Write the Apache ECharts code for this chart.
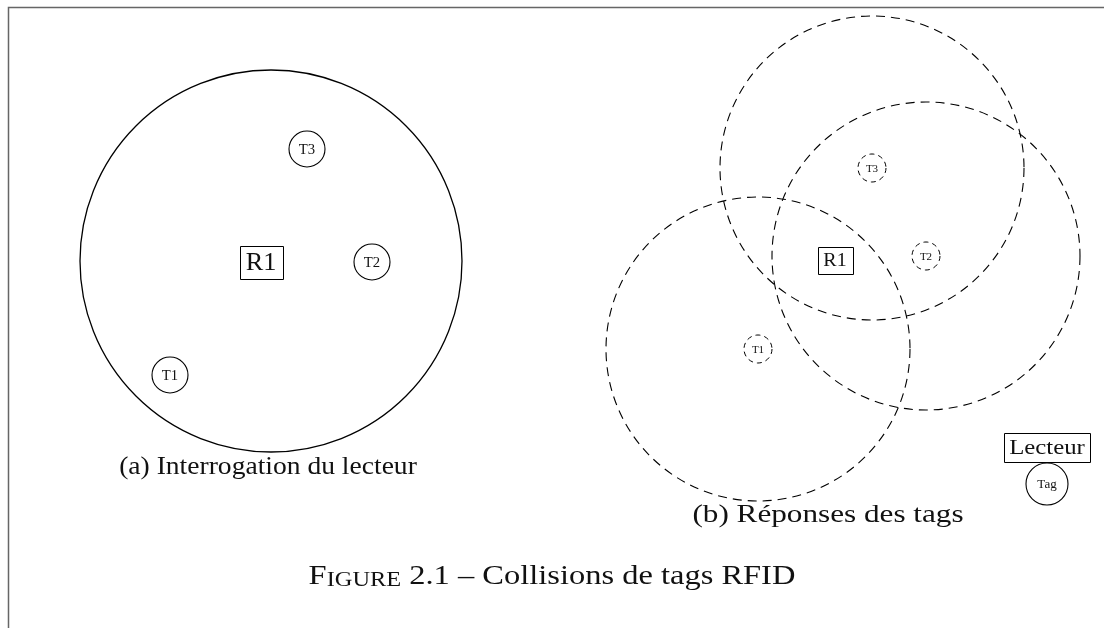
<!DOCTYPE html>
<html>
<head>
<meta charset="utf-8">
<script src="https://cdn.jsdelivr.net/npm/echarts@6/dist/echarts.min.js"></script>
<style>
  html, body { margin: 0; padding: 0; background: #fff; }
  #fig { width: 1104px; height: 628px; }
</style>
</head>
<body>
<div id="fig"></div>
<script>
// (a) reader query: reader range + tags
var readerA = ['R1'];
var readerAX = [261];
var readerAY = [262];
var rangeAX = [271];
var rangeAY = [261];
var rangeAR = [191];
var tagNames = ['T1', 'T2', 'T3'];
var tagAX = [170, 372, 307];
var tagAY = [375, 262, 149];

// (b) tag responses: each tag answers within its own range
var readerBX = [835];
var readerBY = [260];
var tagBX = [758, 926, 872];
var tagBY = [349, 256, 168];
var tagBR = [152, 154, 152];

// legend
var legendBox = ['Lecteur'];
var legendTag = ['Tag'];

var serif = 'Liberation Serif';
var chartDom = document.getElementById('fig');
var myChart = echarts.init(chartDom);

// measure a label to size its box
var ctx = document.createElement('canvas').getContext('2d');
function textWidth(txt, size) {
  ctx.font = size + 'px "' + serif + '"';
  return ctx.measureText(txt).width;
}

function circleItem(opt) {
  return function (params, api) {
    var c = api.coord([api.value(0), api.value(1)]);
    var r = api.size([api.value(2), 0])[0];
    var kids = [{
      type: 'circle',
      shape: { cx: c[0], cy: c[1], r: r },
      style: { fill: 'none', stroke: '#000', lineWidth: opt.lw, lineDash: opt.dash }
    }];
    if (opt.labels) {
      kids.push({
        type: 'text',
        x: c[0], y: c[1] + 1,
        scaleX: opt.sx || 1,
        style: {
          x: 0, y: 0, text: opt.labels[params.dataIndex],
          font: opt.size + 'px "' + serif + '"', fill: '#111',
          align: 'center', verticalAlign: 'middle'
        }
      });
    }
    return { type: 'group', children: kids };
  };
}

function boxItem(labels, size, sx, padX, padY) {
  return function (params, api) {
    var c = api.coord([api.value(0), api.value(1)]);
    var txt = labels[params.dataIndex];
    var w = Math.round(textWidth(txt, size) * sx + padX * 2);
    var h = Math.round(size + padY * 2);
    return {
      type: 'group',
      children: [{
        type: 'rect',
        shape: { x: Math.round(c[0] - w / 2) + 0.5, y: Math.round(c[1] - h / 2) + 0.5, width: w, height: h },
        style: { fill: '#fff', stroke: '#000', lineWidth: 1 }
      }, {
        type: 'text',
        x: c[0], y: c[1] + 1, scaleX: sx,
        style: {
          x: 0, y: 0, text: txt, font: size + 'px "' + serif + '"',
          fill: '#111', align: 'center', verticalAlign: 'middle'
        }
      }]
    };
  };
}

function zip(xs, ys, rs) {
  return xs.map(function (x, i) { return [x, ys[i], rs ? rs[i] : 0]; });
}

var option = {
  animation: false,
  grid: { left: 0, right: 0, top: 0, bottom: 0 },
  xAxis: { type: 'value', min: 0, max: 1104, show: false },
  yAxis: { type: 'value', min: 0, max: 628, inverse: true, show: false },
  graphic: [
    { type: 'polyline', shape: { points: [[8.5, 628], [8.5, 7.5], [1104, 7.5]] },
      style: { stroke: '#666', lineWidth: 1.5, fill: null } },
    { type: 'text', x: 268, y: 467, scaleX: 1.06, style: { text: '(a) Interrogation du lecteur',
      font: '26px "' + serif + '"', fill: '#111', align: 'center', verticalAlign: 'middle' } },
    { type: 'text', x: 828, y: 515, scaleX: 1.2, style: { text: '(b) Réponses des tags',
      font: '26px "' + serif + '"', fill: '#111', align: 'center', verticalAlign: 'middle' } },
    { type: 'text', x: 552, y: 577, scaleX: 1.16, style: {
      text: '{b|F}{s|IGURE}{b| 2.1 – Collisions de tags RFID}',
      align: 'center', verticalAlign: 'middle',
      rich: {
        b: { font: '28px "' + serif + '"', fill: '#111', verticalAlign: 'bottom' },
        s: { font: '21px "' + serif + '"', fill: '#111', verticalAlign: 'bottom' }
      } } }
  ],
  series: [
    { type: 'custom', renderItem: circleItem({ lw: 1.3 }),
      data: zip(rangeAX, rangeAY, rangeAR) },
    { type: 'custom', renderItem: circleItem({ lw: 1.1, labels: tagNames, size: 14, sx: 1.05 }),
      data: zip(tagAX, tagAY, [18, 18, 18]) },
    { type: 'custom', renderItem: boxItem(readerA, 25, 1.05, 6, 4),
      data: zip(readerAX, readerAY) },
    { type: 'custom', renderItem: circleItem({ lw: 1.1, dash: [9, 6] }),
      data: zip(tagBX, tagBY, tagBR) },
    { type: 'custom', renderItem: circleItem({ lw: 1, dash: [5, 4], labels: tagNames, size: 11 }),
      data: zip(tagBX, tagBY, [14, 14, 14]) },
    { type: 'custom', renderItem: boxItem(readerA, 19, 1.05, 6, 4),
      data: zip(readerBX, readerBY) },
    { type: 'custom', renderItem: boxItem(legendBox, 21, 1.18, 5, 4),
      data: [[1047, 447]] },
    { type: 'custom', renderItem: circleItem({ lw: 1.1, labels: legendTag, size: 13 }),
      data: [[1047, 484, 21]] }
  ]
};
option && myChart.setOption(option);
</script>
</body>
</html>
